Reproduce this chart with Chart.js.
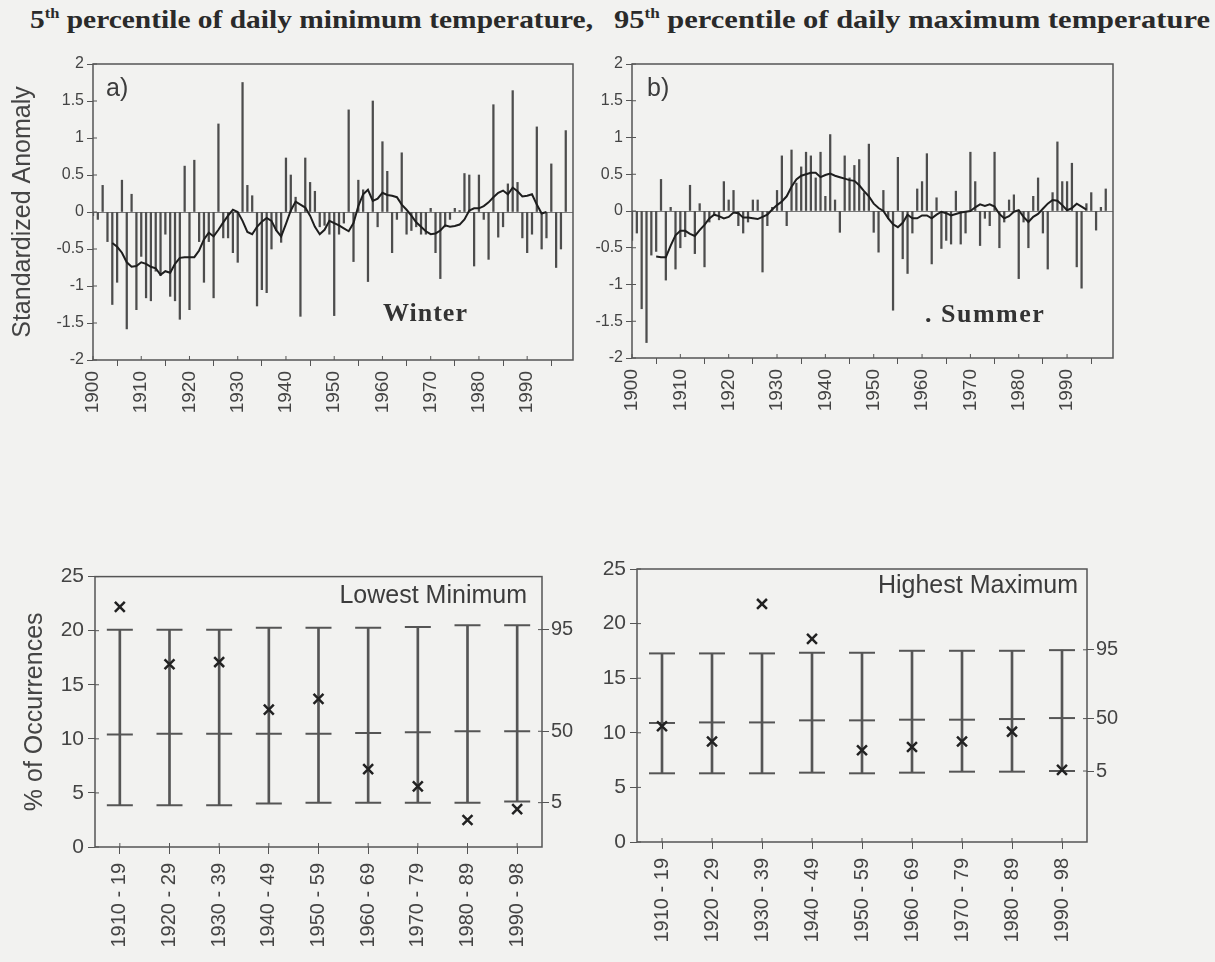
<!DOCTYPE html>
<html>
<head>
<meta charset="utf-8">
<script src="https://cdn.jsdelivr.net/npm/chart.js@4.4.0/dist/chart.umd.min.js"></script>
<style>
  html, body { margin:0; padding:0; background:#f2f2f0; }
  body { width:1215px; height:962px; position:relative; overflow:hidden;
         font-family:"Liberation Sans", Arial, sans-serif; color:#3c3c3c; }
  canvas { position:absolute; }
  .ttl { position:absolute; top:6px; font-family:"Liberation Serif","Times New Roman",serif;
         font-weight:bold; font-size:25px; color:#2a2a2a; white-space:nowrap; transform-origin:0 0; }
  .ttl sup { font-size:14px; vertical-align:10px; line-height:0; }
  .lbl { position:absolute; white-space:nowrap; line-height:1; }
  .serif { font-family:"Liberation Serif","Times New Roman",serif; font-weight:bold; color:#333; }
</style>
</head>
<body>

<div class="ttl" id="t1" data-w="563" style="left:30px">5<sup>th</sup> percentile of daily minimum temperature,</div>
<div class="ttl" id="t2" data-w="596" style="left:614px">95<sup>th</sup> percentile of daily maximum temperature</div>

<canvas id="ca" width="600" height="380" style="left:0;top:50px"></canvas>
<canvas id="cb" width="560" height="380" style="left:580px;top:50px"></canvas>
<canvas id="cc" width="600" height="400" style="left:0;top:560px"></canvas>
<canvas id="cd" width="640" height="410" style="left:540px;top:550px"></canvas>

<div class="lbl" style="left:106px;top:75px;font-size:25px">a)</div>
<div class="lbl" style="left:647px;top:75px;font-size:25px">b)</div>
<div class="lbl serif" style="left:383px;top:300px;font-size:26px;letter-spacing:1px">Winter</div>
<div class="lbl serif" style="left:925px;top:301px;font-size:26px;letter-spacing:1.5px">. Summer</div>
<div class="lbl" style="right:688px;top:582px;font-size:25px">Lowest Minimum</div>
<div class="lbl" style="right:137px;top:572px;font-size:25px">Highest Maximum</div>

<script>
// annual values, 1900 - 1998
const years = Array.from({length: 99}, (_, i) => 1900 + i);
const decadeTicks = [1900, 1910, 1920, 1930, 1940, 1950, 1960, 1970, 1980, 1990];
const anomalyTicks = [-2, -1.5, -1, -0.5, 0, 0.5, 1, 1.5, 2];

const winterAnom = [
  -0.05, -0.1, 0.36, -0.4, -1.25, -0.95, 0.43, -1.58, 0.24, -1.32,
  -0.6, -1.16, -1.2, -0.8, -0.86, -0.3, -1.14, -1.2, -1.45, 0.62,
  -1.32, 0.7, -0.4, -0.95, -0.4, -1.16, 1.19, -0.35, -0.35, -0.55,
  -0.68, 1.75, 0.36, 0.22, -1.27, -1.05, -1.09, -0.5, -0.25, -0.41,
  0.73, 0.5, 0.2, -1.41, 0.73, 0.4, 0.28, -0.2, -0.18, -0.3,
  -1.4, -0.3, -0.15, 1.38, -0.67, 0.43, 0.3, -0.94, 1.5, -0.2,
  0.95, 0.55, -0.55, -0.1, 0.8, -0.3, -0.25, -0.2, -0.3, -0.3,
  0.05, -0.55, -0.9, -0.2, -0.1, 0.05, 0.02, 0.52, 0.5, -0.73,
  0.5, -0.1, -0.64, 1.45, -0.34, -0.2, 0.38, 1.64, 0.4, -0.35,
  -0.55, -0.3, 1.15, -0.5, -0.35, 0.65, -0.75, -0.5, 1.1
];
// running mean, 1904 - 1994
const winterMeanStart = 1904;
const winterMean = [
  -0.42, -0.47, -0.55, -0.68, -0.74, -0.73,
  -0.68, -0.7, -0.74, -0.76, -0.85, -0.8, -0.82, -0.7, -0.62, -0.61,
  -0.61, -0.61, -0.52, -0.37, -0.28, -0.33, -0.24, -0.14, -0.05, 0.03,
  0.0, -0.12, -0.27, -0.3, -0.2, -0.13, -0.08, -0.12, -0.25, -0.33,
  -0.16, 0.02, 0.14, 0.1, 0.06, -0.05, -0.2, -0.3, -0.24, -0.12,
  -0.15, -0.18, -0.22, -0.26, -0.15, 0.08, 0.24, 0.3, 0.15, 0.18,
  0.26, 0.23, 0.22, 0.2, 0.1, 0.03, -0.05, -0.14, -0.2, -0.26,
  -0.3, -0.29, -0.25, -0.18, -0.2, -0.19, -0.17, -0.1, 0.02, 0.05,
  0.05, 0.08, 0.13, 0.2, 0.26, 0.29, 0.24, 0.33, 0.28, 0.21,
  0.22, 0.24, 0.1, -0.02, 0.0
];

const summerAnom = [
  -0.4, -0.3, -1.33, -1.79, -0.6, -0.55, 0.43, -0.94, 0.05, -0.79,
  -0.5, -0.35, 0.35, -0.58, 0.1, -0.76, -0.15, -0.05, -0.12, 0.4,
  0.15, 0.28, -0.2, -0.3, -0.15, 0.15, 0.15, -0.83, -0.2, 0.05,
  0.28, 0.75, -0.2, 0.83, 0.38, 0.6, 0.8, 0.75, 0.45, 0.8,
  0.2, 1.04, 0.15, -0.29, 0.75, 0.45, 0.62, 0.7, 0.25, 0.91,
  -0.29, -0.56, 0.28, -0.1, -1.35, 0.73, -0.65, -0.85, -0.3, 0.3,
  0.4, 0.78, -0.72, 0.18, -0.51, -0.4, -0.45, 0.27, -0.45, -0.3,
  0.8, 0.4, -0.47, -0.1, -0.2, 0.8, -0.5, -0.15, 0.15, 0.22,
  -0.92, -0.15, -0.5, 0.2, 0.45, -0.3, -0.79, 0.25, 0.94, 0.4,
  0.4, 0.65, -0.76, -1.05, 0.1, 0.25, -0.26, 0.05, 0.3
];
// running mean, 1905 - 1994
const summerMeanStart = 1905;
const summerMean = [
  -0.62, -0.63, -0.63, -0.47, -0.33,
  -0.27, -0.27, -0.31, -0.34, -0.26, -0.19, -0.1, -0.05, -0.07, -0.1,
  -0.08, -0.02, -0.03, -0.09, -0.09, -0.1, -0.11, -0.08, -0.05, 0.02,
  0.08, 0.13, 0.2, 0.33, 0.43, 0.48, 0.5, 0.52, 0.52, 0.46,
  0.49, 0.51, 0.48, 0.46, 0.44, 0.42, 0.41, 0.35, 0.27, 0.2,
  0.1, 0.04, 0.0, -0.1, -0.18, -0.22, -0.16, -0.05, -0.1, -0.1,
  -0.06, -0.06, -0.1, -0.05, -0.01, -0.03, -0.06, -0.04, -0.02, -0.01,
  0.0, 0.05, 0.09, 0.07, 0.09, 0.06, -0.04, -0.1, -0.07, -0.01,
  0.01, -0.08, -0.15, -0.08, -0.04, 0.03, 0.1, 0.15, 0.14, 0.08,
  0.01, 0.04, 0.1, 0.06, 0.02
];

// decadal occurrence (%), with 5th / 50th / 95th percentile bounds
const decades = ['1910 - 19', '1920 - 29', '1930 - 39', '1940 - 49', '1950 - 59',
                 '1960 - 69', '1970 - 79', '1980 - 89', '1990 - 98'];
const pctLabels = ['5', '50', '95'];

const minLow  = [3.87, 3.87, 3.87, 4.03, 4.09, 4.09, 4.09, 4.09, 4.2];
const minMid  = [10.4, 10.48, 10.48, 10.48, 10.48, 10.54, 10.6, 10.7, 10.7];
const minHigh = [20.08, 20.08, 20.08, 20.27, 20.27, 20.27, 20.33, 20.5, 20.5];
const minObs  = [22.2, 16.9, 17.1, 12.7, 13.7, 7.2, 5.6, 2.5, 3.5];
const minPctTicks = [4.1, 10.7, 20.1];

const maxLow  = [6.29, 6.29, 6.29, 6.35, 6.29, 6.35, 6.44, 6.44, 6.5];
const maxMid  = [10.9, 10.95, 10.95, 11.14, 11.14, 11.2, 11.2, 11.26, 11.35];
const maxHigh = [17.27, 17.27, 17.27, 17.33, 17.33, 17.51, 17.51, 17.51, 17.57];
const maxObs  = [10.6, 9.2, 21.8, 18.6, 8.4, 8.7, 9.2, 10.1, 6.6];
const maxPctTicks = [6.5, 11.3, 17.6];

const INK = '#444';
const FONT = '"Liberation Sans", Arial, sans-serif';

// box round the plot area, plus the short inner half of each tick mark
const framePlugin = {
  id: 'frame',
  afterDraw(chart) {
    const {ctx, chartArea: a} = chart;
    ctx.save();
    ctx.strokeStyle = '#555';
    ctx.lineWidth = 1.5;
    ctx.strokeRect(a.left, a.top, a.right - a.left, a.bottom - a.top);
    ctx.lineWidth = 1;
    ctx.beginPath();
    Object.values(chart.scales).forEach(s => {
      s.ticks.forEach((t, i) => {
        const p = s.getPixelForTick(i);
        if (s.isHorizontal()) { ctx.moveTo(p, a.bottom); ctx.lineTo(p, a.bottom - 4); }
        else if (s.position === 'left') { ctx.moveTo(a.left, p); ctx.lineTo(a.left + 4, p); }
        else { ctx.moveTo(a.right, p); ctx.lineTo(a.right - 4, p); }
      });
    });
    ctx.stroke();
    ctx.restore();
  }
};

function anomalyChart(id, vals, meanStart, meanVals, box, yTitle) {
  new Chart(document.getElementById(id), {
    type: 'bar',
    data: {
      datasets: [
        {
          type: 'line',
          data: meanVals.map((v, i) => ({x: meanStart + i, y: v})),
          borderColor: '#1e1e1e', borderWidth: 2, pointRadius: 0, order: 0
        },
        {
          type: 'bar',
          data: years.map((y, i) => ({x: y, y: vals[i]})),
          backgroundColor: '#4d4d4d', barThickness: 1.6, order: 1
        }
      ]
    },
    options: {
      responsive: false, animation: false,
      layout: {autoPadding: false, padding: {top: box.top, right: box.right, left: 0, bottom: 0}},
      plugins: {legend: {display: false}, tooltip: {enabled: false}},
      scales: {
        x: {
          type: 'linear', min: 1900, max: 1999.5, offset: false,
          afterBuildTicks: s => { s.ticks = decadeTicks.map(v => ({value: v})); },
          afterFit: s => { s.height = box.xh; },
          ticks: {minRotation: 90, maxRotation: 90, autoSkip: false, padding: 5,
                  font: {family: FONT, size: 19}, color: INK, callback: v => String(v)},
          grid: {drawOnChartArea: false, tickLength: 6, tickColor: '#555'},
          border: {display: false}
        },
        y: {
          min: -2, max: 2,
          afterBuildTicks: s => { s.ticks = anomalyTicks.map(v => ({value: v})); },
          afterFit: s => { s.width = box.yw; },
          ticks: {padding: 3, font: {family: FONT, size: 16}, color: INK, callback: v => String(v)},
          grid: {color: c => c.tick && c.tick.value === 0 ? '#777' : 'rgba(0,0,0,0)',
                 tickColor: '#555', tickLength: 6},
          border: {display: false},
          title: {display: !!yTitle, text: yTitle || '', color: INK,
                  font: {family: FONT, size: 25}, padding: {top: 8, bottom: 0}}
        }
      }
    },
    plugins: [framePlugin]
  });
}

function pctChart(id, low, mid, high, obs, pctTicks, box, yTitle) {
  const cap = vals => ({
    type: 'line', data: vals, showLine: false, pointStyle: 'line',
    pointRadius: 13, borderColor: '#555', borderWidth: 2, order: 1
  });
  new Chart(document.getElementById(id), {
    type: 'bar',
    data: {
      labels: decades,
      datasets: [
        {type: 'line', data: obs, showLine: false, pointStyle: 'crossRot',
         pointRadius: 7, borderColor: '#222', borderWidth: 2.5, order: 0},
        cap(low), cap(mid), cap(high),
        {type: 'bar', data: low.map((l, i) => [l, high[i]]),
         backgroundColor: '#555', barThickness: 2, order: 2}
      ]
    },
    options: {
      responsive: false, animation: false,
      layout: {autoPadding: false, padding: {top: box.top, right: 0, left: 0, bottom: 0}},
      plugins: {legend: {display: false}, tooltip: {enabled: false}},
      scales: {
        x: {
          afterFit: s => { s.height = box.xh; },
          ticks: {minRotation: 90, maxRotation: 90, autoSkip: false, padding: 9,
                  font: {family: FONT, size: 20}, color: INK},
          grid: {offset: false, drawOnChartArea: false, tickLength: 7, tickColor: '#555'},
          border: {display: false}
        },
        y: {
          min: 0, max: 25,
          ticks: {stepSize: 5, padding: 4, font: {family: FONT, size: 21}, color: INK},
          afterFit: s => { s.width = box.yw; },
          grid: {drawOnChartArea: false, tickLength: 7, tickColor: '#555'},
          border: {display: false},
          title: {display: !!yTitle, text: yTitle || '', color: INK,
                  font: {family: FONT, size: 25}, padding: {top: 20, bottom: 0}}
        },
        y2: {
          position: 'right', min: 0, max: 25,
          afterBuildTicks: s => { s.ticks = pctTicks.map(v => ({value: v})); },
          afterFit: s => { s.width = box.y2w; },
          ticks: {padding: 2, font: {family: FONT, size: 20}, color: INK,
                  callback: (v, i) => pctLabels[i]},
          grid: {drawOnChartArea: false, tickLength: 7, tickColor: '#555'},
          border: {display: false}
        }
      }
    },
    plugins: [framePlugin]
  });
}

anomalyChart('ca', winterAnom, winterMeanStart, winterMean,
             {top: 14, right: 27, yw: 93, xh: 70}, 'Standardized Anomaly');
anomalyChart('cb', summerAnom, summerMeanStart, summerMean,
             {top: 14, right: 27, yw: 52, xh: 72}, null);
pctChart('cc', minLow, minMid, minHigh, minObs, minPctTicks,
         {top: 16, yw: 95, y2w: 58, xh: 113}, '% of Occurrences');
pctChart('cd', maxLow, maxMid, maxHigh, maxObs, maxPctTicks,
         {top: 19, yw: 97, y2w: 93, xh: 118}, null);

// stretch the two heading halves to the widths they take in the figure
document.querySelectorAll('.ttl').forEach(el => {
  const w = el.getBoundingClientRect().width;
  el.style.transform = 'scaleX(' + (Number(el.dataset.w) / w) + ')';
});
</script>
</body>
</html>
